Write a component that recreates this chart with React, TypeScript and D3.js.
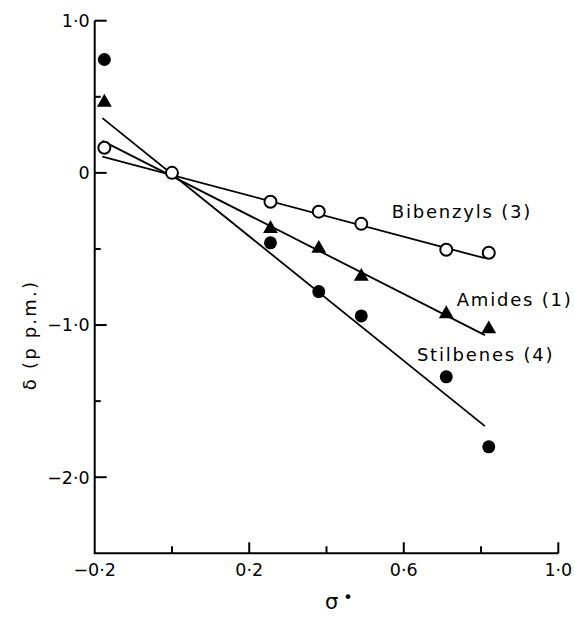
import React from "react";
import * as d3 from "d3";

const WIDTH = 575;
const HEIGHT = 617;
const FONT = "'DejaVu Sans', sans-serif";

// substituent constants (shared by the three series)
const sigma = [-0.175, 0, 0.255, 0.38, 0.49, 0.71, 0.82];
// δ in p.p.m.; null = point hidden under the common origin circle
const bibenzyls = [0.165, 0, -0.19, -0.255, -0.335, -0.505, -0.525];
const amides = [0.47, null, -0.36, -0.49, -0.675, -0.92, -1.02];
const stilbenes = [0.745, null, -0.46, -0.78, -0.94, -1.34, -1.8];

// fitted lines, read at their two ends
const fitX = [-0.18, 0.81];
const bibenzylsFit = [0.107, -0.561];
const amidesFit = [0.21, -1.066];
const stilbenesFit = [0.36, -1.664];

// axes
const xLabelTicks = [-0.2, 0.2, 0.6, 1.0];
const xLabels = ["\u22120\u00b72", "0\u00b72", "0\u00b76", "1\u00b70"];
const xMinorTicks = [0, 0.4, 0.8];
const yLabelTicks = [1, 0, -1, -2];
const yLabels = ["1\u00b70", "0", "\u22121\u00b70", "\u22122\u00b70"];
const yMinorTicks = [0.5, -0.5, -1.5];

// series labels, placed in data units (σ, δ)
const seriesNames = ["Bibenzyls (3)", "Amides (1)", "Stilbenes (4)"];
const seriesLabelAt = [
  [0.569, -0.298],
  [0.737, -0.875],
  [0.634, -1.237],
];

export default function App() {
  const x = d3.scaleLinear().domain([-0.2, 1.0]).range([94.7, 558.3]);
  const y = d3.scaleLinear().domain([-2.5, 1.0]).range([553.3, 20.7]);

  const line = d3
    .line<[number, number]>()
    .x((d) => x(d[0]))
    .y((d) => y(d[1]));

  const fits = [bibenzylsFit, amidesFit, stilbenesFit].map((f) =>
    line(fitX.map((v, i) => [v, f[i]] as [number, number]))
  );

  const triangle = d3.symbol().type(d3.symbolTriangle).size(95)();

  const pts = (vals: (number | null)[]) =>
    sigma
      .map((s, i) => ({ s, v: vals[i] }))
      .filter((d) => d.v !== null) as { s: number; v: number }[];

  return (
    <svg
      width={WIDTH}
      height={HEIGHT}
      style={{ position: "absolute", left: 0, top: 0, background: "#fff" }}
      fontFamily={FONT}
    >
      {/* axes */}
      <g stroke="#000" strokeWidth={2} fill="none">
        <path d={`M${x(-0.2)},${y(1)}V${y(-2.5)}H${x(1)}`} />
        {xLabelTicks.slice(1).map((t) => (
          <line key={t} x1={x(t)} x2={x(t)} y1={y(-2.5)} y2={y(-2.5) - 11} />
        ))}
        {xMinorTicks.map((t) => (
          <line key={t} x1={x(t)} x2={x(t)} y1={y(-2.5)} y2={y(-2.5) - 7} />
        ))}
        {yLabelTicks.map((t) => (
          <line key={t} x1={x(-0.2)} x2={x(-0.2) + 12} y1={y(t)} y2={y(t)} />
        ))}
        {yMinorTicks.map((t) => (
          <line key={t} x1={x(-0.2)} x2={x(-0.2) + 6} y1={y(t)} y2={y(t)} />
        ))}
      </g>

      {/* tick labels */}
      <g fontSize={17.5} fill="#000">
        {xLabelTicks.map((t, i) => (
          <text key={t} x={x(t)} y={576} textAnchor="middle">
            {xLabels[i]}
          </text>
        ))}
        {yLabelTicks.map((t, i) => (
          <text key={t} x={x(-0.2) - 5} y={y(t)} dy="0.36em" textAnchor="end">
            {yLabels[i]}
          </text>
        ))}
      </g>

      {/* axis titles */}
      <text
        transform="translate(30,335) rotate(-90)"
        textAnchor="middle"
        dy="0.36em"
        fontSize={18}
        letterSpacing={2.2}
      >
        {"\u03b4 (p p.m.)"}
      </text>
      <text x={325} y={609} fontSize={21}>
        {"\u03c3"}
        <tspan dx={5} dy={-6} fontSize={16}>
          {"\u2022"}
        </tspan>
      </text>

      {/* fitted lines */}
      <g stroke="#000" strokeWidth={1.8} fill="none">
        {fits.map((d, i) => (
          <path key={i} d={d || ""} />
        ))}
      </g>

      {/* points */}
      {pts(stilbenes).map((d, i) => (
        <circle key={"s" + i} cx={x(d.s)} cy={y(d.v)} r={6.5} fill="#000" />
      ))}
      {pts(amides).map((d, i) => (
        <path
          key={"a" + i}
          d={triangle || ""}
          transform={`translate(${x(d.s)},${y(d.v) + 1})`}
          fill="#000"
        />
      ))}
      {pts(bibenzyls).map((d, i) => (
        <circle
          key={"b" + i}
          cx={x(d.s)}
          cy={y(d.v)}
          r={6}
          fill="#fff"
          stroke="#000"
          strokeWidth={2}
        />
      ))}

      {/* series labels */}
      <g fontSize={18} letterSpacing={1.8} fill="#000">
        {seriesNames.map((n, i) => (
          <text key={n} x={x(seriesLabelAt[i][0])} y={y(seriesLabelAt[i][1])}>
            {n}
          </text>
        ))}
      </g>
    </svg>
  );
}
